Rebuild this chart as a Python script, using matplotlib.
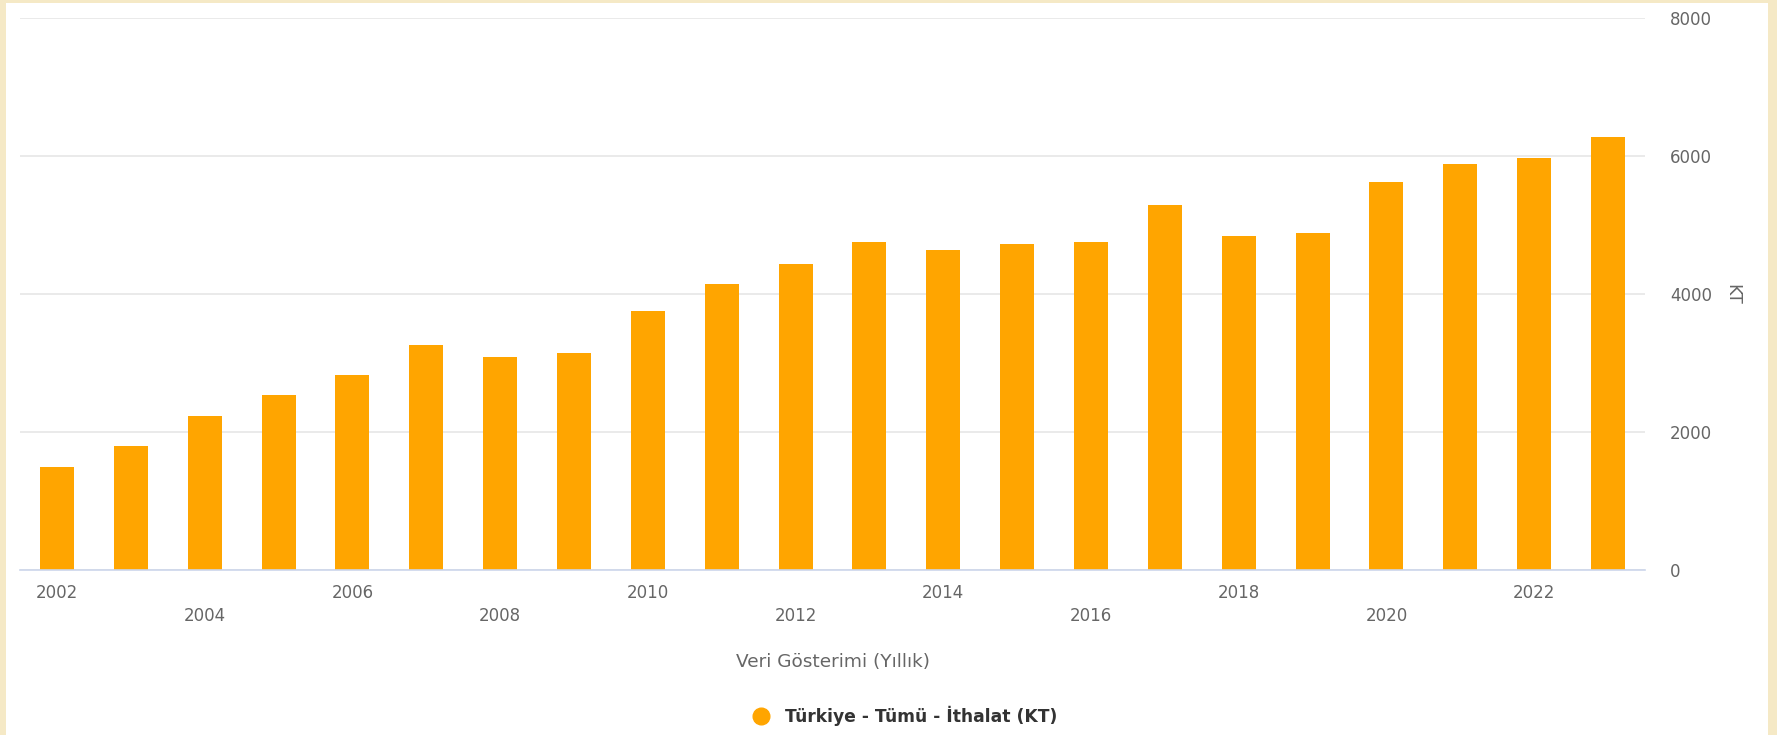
import matplotlib
matplotlib.use("Agg")
import matplotlib.pyplot as plt
from matplotlib.lines import Line2D
from matplotlib.patches import Rectangle

# data (KT, yearly)
years = list(range(2002, 2024))
imports_kt = [1490, 1800, 2230, 2540, 2830, 3260, 3080, 3150, 3755, 4140, 4435,
              4748, 4635, 4728, 4748, 5288, 4840, 4880, 5620, 5890, 5965, 6278]
y_ticks = [0, 2000, 4000, 6000, 8000]
series_label = "Türkiye - Tümü - İthalat (KT)"
x_title = "Veri Gösterimi (Yıllık)"
y_title = "KT"

W, H = 1777, 735
bar_color = "#FFA500"
text_gray = "#666666"

plt.rcParams["font.family"] = ["DejaVu Sans"]

fig = plt.figure(figsize=(W / 100, H / 100), dpi=100)
fig.patch.set_facecolor("#F5E9C6")
# white panel inside the beige frame
fig.patches.append(Rectangle((6 / W, 0), (1768 - 6) / W, (H - 3) / H,
                             transform=fig.transFigure, facecolor="white",
                             edgecolor="none", zorder=-10))

ax = fig.add_axes([20 / W, (H - 570) / H, 1625 / W, 552 / H])
ax.set_zorder(2)
ax.set_facecolor("white")

pos = list(range(len(years)))
ax.bar(pos, imports_kt, width=0.46, color=bar_color, zorder=3)

ax.set_xlim(-0.5, len(years) - 0.5)
ax.set_ylim(0, 8000)

# y axis on the right
ax.yaxis.tick_right()
ax.set_yticks(y_ticks)
ax.set_yticklabels([str(v) for v in y_ticks])
ax.tick_params(axis="y", length=0, pad=18, labelsize=12, labelcolor=text_gray)
ax.yaxis.grid(True, color="#e6e6e6", linewidth=1.2, zorder=0)
ax.set_axisbelow(True)
ax.yaxis.set_label_position("right")
ax.set_ylabel(y_title, rotation=270, color=text_gray, fontsize=12.5, labelpad=8,
              va="bottom")

# x labels: every second year, staggered in two rows
tick_pos = [p for p, y in zip(pos, years) if y % 2 == 0]
tick_lab = []
for i, p in enumerate(tick_pos):
    lab = str(years[p])
    tick_lab.append(lab if i % 2 == 0 else "\n" + lab)
ax.set_xticks(tick_pos)
ax.set_xticklabels(tick_lab, linespacing=1.36)
ax.tick_params(axis="x", length=0, pad=10, labelsize=12, labelcolor=text_gray)
ax.set_xlabel(x_title, color=text_gray, fontsize=13.3, labelpad=20)

for side in ["top", "left", "right"]:
    ax.spines[side].set_visible(False)
ax.spines["bottom"].set_color("#ccd6eb")
ax.spines["bottom"].set_linewidth(1.2)
ax.spines["bottom"].set_zorder(4)

handle = Line2D([], [], marker="o", linestyle="none", markersize=12,
                markerfacecolor=bar_color, markeredgecolor=bar_color)
leg = fig.legend([handle], [series_label], loc="center",
                 bbox_to_anchor=(901 / W, (H - 716) / H), frameon=False,
                 handletextpad=0.4, prop={"weight": "bold", "size": 12.3},
                 labelcolor="#333333")
leg.set_zorder(3)

fig.savefig("out.png", dpi=100, facecolor=fig.get_facecolor())
